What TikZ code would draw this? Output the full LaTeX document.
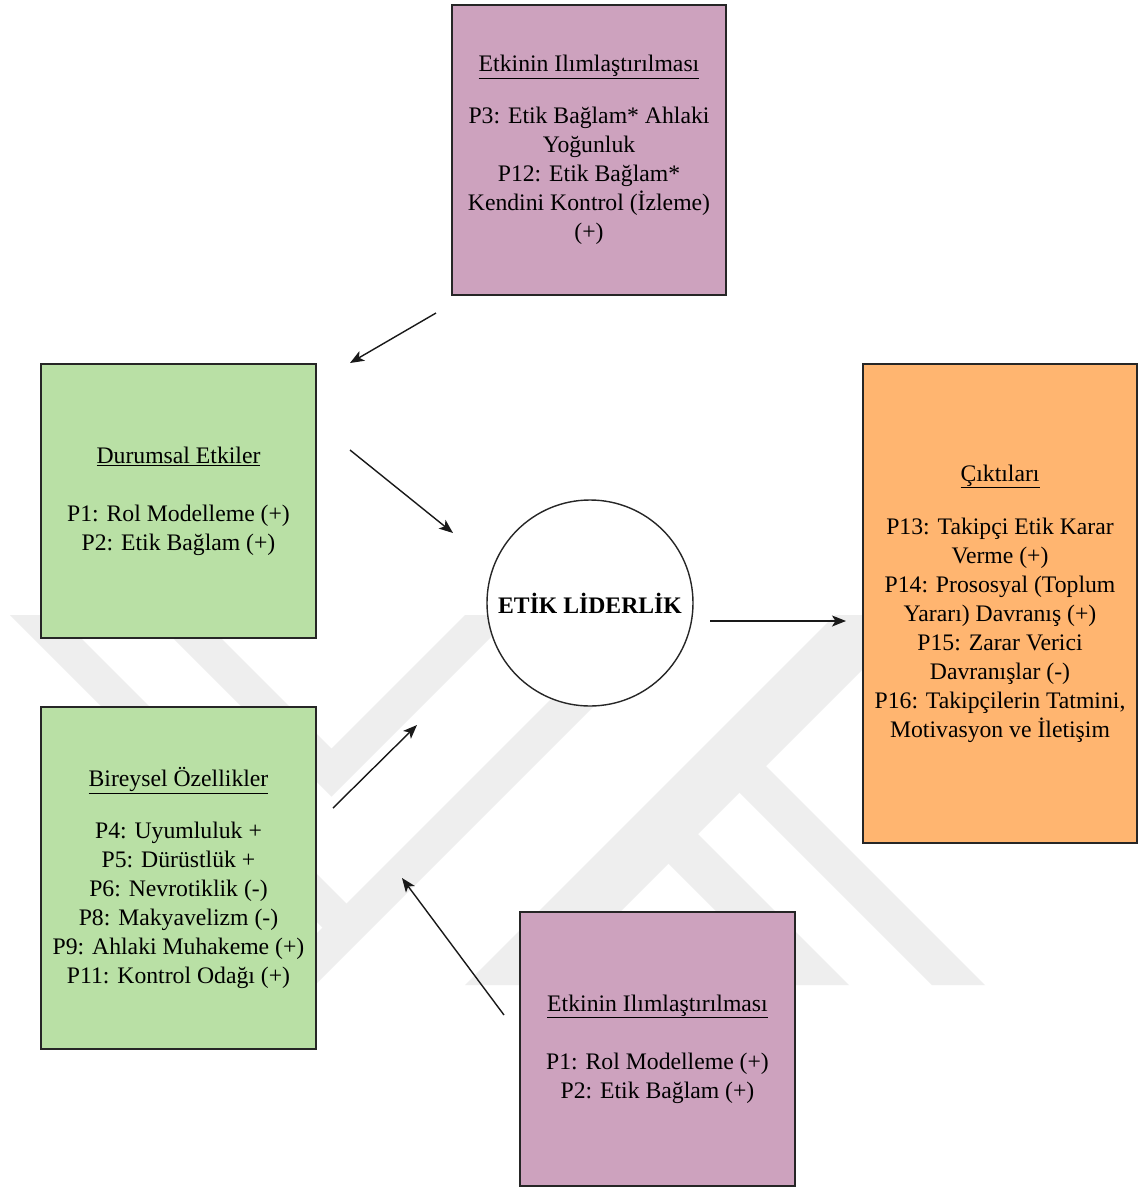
\documentclass[tikz,border=0pt]{standalone}
\usepackage{fontspec}
\setmainfont{Liberation Serif}
\usetikzlibrary{arrows.meta}
\definecolor{mauve}{HTML}{CDA2BE}
\definecolor{leaf}{HTML}{B9E0A5}
\definecolor{apricot}{HTML}{FFB570}
\definecolor{edge}{HTML}{262626}
\definecolor{wmark}{HTML}{EEEEEE}
\begin{document}
\begin{tikzpicture}[x=1pt,y=-1pt,
  box/.style={draw=edge, line width=1.4pt, align=center, inner sep=0pt,
    font=\fontsize{23.7}{29}\selectfont},
  modbox/.style={box, fill=mauve},
  srcbox/.style={box, fill=leaf},
  outbox/.style={box, fill=apricot},
  hub/.style={draw=edge, line width=1.4pt, circle, fill=white, inner sep=0pt,
    minimum size=206pt, font=\fontsize{23.7}{29}\selectfont\bfseries},
  link/.style={draw=black!90, line width=1.4pt,
    -{Stealth[length=14pt,width=11pt,inset=3.5pt]}},
]
\fill[white] (0,0) rectangle (1138,1187);
\useasboundingbox (0,0) rectangle (1138,1187);

% faint background emblem made of diagonal bands
\begin{scope}
  \clip (0,615) rectangle (1138,985);
  \fill[wmark] (10,615) -- (58,615) -- (359,916) -- (335,940) -- cycle;
  \fill[wmark] (635,615) -- (685,615) -- (315,985) -- (265,985) -- cycle;
  \fill[wmark] (150,615) -- (198,615) -- (331.5,748.5) -- (465,615) -- (513,615) -- (331.5,796.5) -- cycle;
  \fill[wmark] (835,615) -- (917,615) -- (547,985) -- (465,985) -- cycle;
  \fill[wmark] (723.5,776.5) -- (750,750) -- (985,985) -- (932,985) -- cycle;
  \fill[wmark] (652.5,847.5) -- (682,818) -- (849,985) -- (790,985) -- cycle;
\end{scope}

% boxes
\node[modbox, minimum width=274pt, minimum height=290pt] (modtop) at (589,150)
  {\underline{Etkinin Ilımlaştırılması}\\[23pt]
   P3: Etik Bağlam* Ahlaki\\ Yoğunluk\\ P12: Etik Bağlam*\\
   Kendini Kontrol (İzleme)\\ (+)};
\node[srcbox, minimum width=275pt, minimum height=274pt] (situ) at (178.5,501)
  {\underline{Durumsal Etkiler}\\[29pt]
   P1: Rol Modelleme (+)\\ P2: Etik Bağlam (+)};
\node[srcbox, minimum width=275pt, minimum height=342pt] (indiv) at (178.5,878)
  {\underline{Bireysel Özellikler}\\[23pt]
   P4: Uyumluluk +\\ P5: Dürüstlük +\\ P6: Nevrotiklik (-)\\
   P8: Makyavelizm (-)\\ P9: Ahlaki Muhakeme (+)\\ P11: Kontrol Odağı (+)};
\node[outbox, minimum width=274pt, minimum height=479pt] (outc) at (1000,603.5)
  {\underline{Çıktıları}\\[24pt]
   P13: Takipçi Etik Karar\\ Verme (+)\\ P14: Prososyal (Toplum\\
   Yararı) Davranış (+)\\ P15: Zarar Verici\\ Davranışlar (-)\\
   P16: Takipçilerin Tatmini,\\ Motivasyon ve İletişim};
\node[modbox, minimum width=275pt, minimum height=274pt] (modbot) at (657.5,1049)
  {\underline{Etkinin Ilımlaştırılması}\\[29pt]
   P1: Rol Modelleme (+)\\ P2: Etik Bağlam (+)};
\node[hub] (lead) at (590,603) {ETİK LİDERLİK};

% arrow end points
\coordinate (a1s) at (436,313); \coordinate (a1e) at (350,363);
\coordinate (a2s) at (350,450); \coordinate (a2e) at (453,533);
\coordinate (a3s) at (333,808); \coordinate (a3e) at (417,725);
\coordinate (a4s) at (504,1015); \coordinate (a4e) at (402,878);
\coordinate (a5s) at (710,621); \coordinate (a5e) at (846,621);

\draw[link] (a1s) -- (a1e);
\draw[link] (a2s) -- (a2e);
\draw[link] (a3s) -- (a3e);
\draw[link] (a4s) -- (a4e);
\draw[link] (a5s) -- (a5e);
\end{tikzpicture}
\end{document}
